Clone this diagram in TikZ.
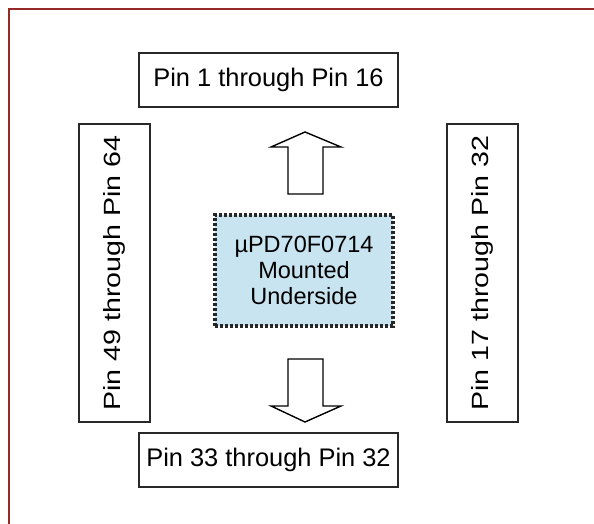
\documentclass[tikz,border=0pt]{standalone}
\usepackage{fontspec}
\setmainfont{Liberation Sans}
\definecolor{framered}{RGB}{150,40,40}
\definecolor{chipblue}{RGB}{200,228,240}
\definecolor{boxgray}{RGB}{40,40,40}
\newcommand{\vtext}[1]{\scalebox{1}[0.82]{\fontsize{28.6}{30}\selectfont #1}}
\begin{document}
\begin{tikzpicture}[x=1pt,y=-1pt,
  pinbox/.style={draw=boxgray,line width=1.3pt,inner sep=0pt,fill=white},
  chip/.style={draw=black!85,line width=3.4pt,dash pattern=on 3.2pt off 1.8pt,fill=chipblue,inner sep=0pt,align=center},
  fatarrow/.style={draw=black,line width=1.4pt,line join=miter,fill=white}]
\useasboundingbox (0,0) rectangle (594,524);
\fill[white] (0,0) rectangle (594,524);
\draw[framered,line width=1.6pt] (9,530) -- (9,9) -- (600,9);
\node[pinbox,minimum width=259pt,minimum height=54pt,font=\fontsize{25.4}{28}\selectfont] (top) at (268.5,80) {Pin 1 through Pin 16};
\node[pinbox,minimum width=259pt,minimum height=54pt,font=\fontsize{25.4}{28}\selectfont] (bottom) at (268.5,460) {Pin 33 through Pin 32};
\node[pinbox,minimum width=298pt,minimum height=71pt,rotate=90] (left) at (114.5,273) {\vtext{Pin 49 through Pin 64}};
\node[pinbox,minimum width=298pt,minimum height=71pt,rotate=90] (right) at (482.5,273) {\vtext{Pin 17 through Pin 32}};
\node[chip,minimum width=178pt,minimum height=111pt,font=\fontsize{23.5}{26}\selectfont] (chip) at (304,270.5) {µPD70F0714\\Mounted\\Underside};
\draw[fatarrow] (305,132) -- (341,147) -- (323,147) -- (323,194) -- (288,194) -- (288,147) -- (271,147) -- cycle;
\draw[fatarrow] (305,422) -- (341,406) -- (323,406) -- (323,359) -- (288,359) -- (288,406) -- (271,406) -- cycle;
\end{tikzpicture}
\end{document}
